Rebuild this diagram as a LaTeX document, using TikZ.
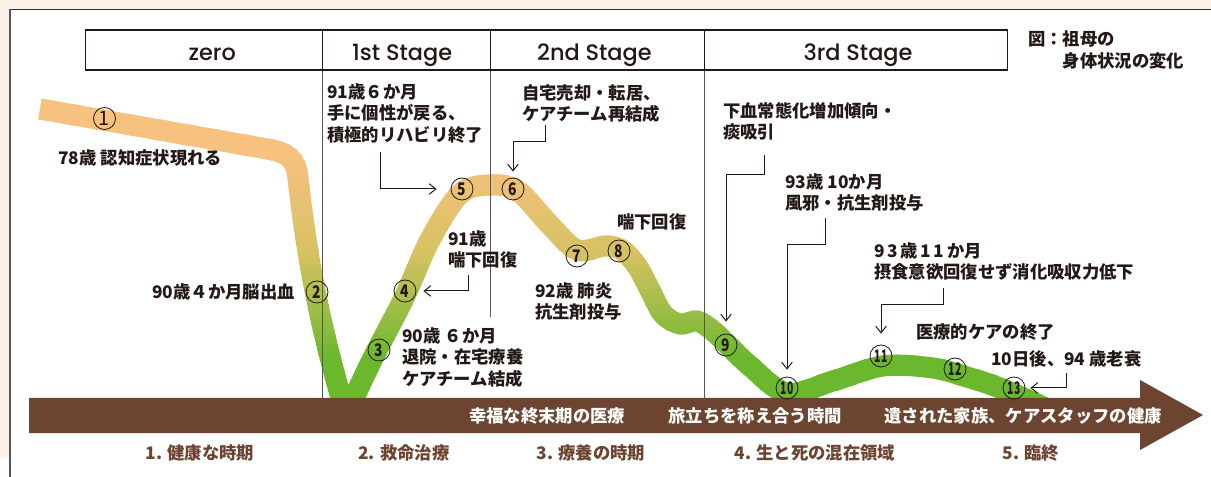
\documentclass[tikz,border=0pt]{standalone}
\usepackage{fontspec}
\newfontfamily\jp{Noto Sans CJK JP}
\newfontfamily\hd{Poppins}[UprightFont={* Medium}]
\usetikzlibrary{arrows.meta}
\definecolor{ink}{HTML}{231815}
\definecolor{beige}{HTML}{FCF1E6}
\definecolor{brownA}{HTML}{6C4430}
\definecolor{bandor}{HTML}{F7C17F}
\definecolor{bandmid}{HTML}{D6C262}
\definecolor{bandgr}{HTML}{6BB82E}
\definecolor{divc}{HTML}{5A5458}
\def\bandpath{(40,109) -- (262,148) .. controls (288,152) and (296,158) .. (298,178)
  .. controls (306,250) and (318,320) .. (346,415)
  -- plot[smooth,tension=0.55] coordinates {(346,415) (372,360) (404,298) (430,240) (460,194) (490,185) (518,191) (550,225) (577,250) (605,246) (622,250) (637,266) (650,290) (663,314) (680,324) (697,321) (712,330) (726,343) (750,366) (787,393) (833,381) (883,366) (933,368) (967,377) (1000,388) (1050,410)}}
\tikzset{
  lbl/.style={inner sep=0pt, align=left, text=ink, font=\jp\bfseries\fontsize{13}{16.1}\selectfont},
  onarrow/.style={inner sep=0pt, text=white, font=\jp\bfseries\fontsize{13}{16}\selectfont},
  period/.style={inner sep=0pt, text=brownA, font=\jp\bfseries\fontsize{13}{16}\selectfont},
  cell/.style={draw=ink, line width=1.1pt, inner sep=0pt, minimum height=30.15pt, text height=17pt, text depth=2pt, font=\hd\fontsize{16.8}{20}\selectfont, text=ink},
  num/.style={circle, draw=ink, line width=0.6pt, minimum size=16.5pt, inner sep=0pt, text=ink, font=\jp\bfseries\fontsize{13}{13}\selectfont},
  leader/.style={draw=ink, line width=0.75pt, -{Straight Barb[length=5pt,width=8pt]}},
  divider/.style={draw=divc, line width=0.7pt}
}
\begin{document}
\begin{tikzpicture}[x=0.75pt,y=-0.75pt]
\useasboundingbox (0,0) rectangle (1211,477);
\fill[white] (0,0) rectangle (1211,477);
% outer frame
\fill[beige] (0,0) rectangle (1211,9);
\fill[beige] (0,0) rectangle (9,458);
\draw[draw=ink!90, line width=1.1pt] (9,9.5) -- (1211,9.5);
\draw[draw=divc, line width=1.1pt] (10,9.5) -- (10,477);
% header cells
\node[cell, minimum width=177.75pt, anchor=north west] (h0) at (85,29.3) {\hspace*{12pt}zero};
\node[cell, minimum width=126pt, anchor=north west] (h1) at (322,29.3) {1st Stage\hspace*{7pt}};
\node[cell, minimum width=160.5pt, anchor=north west] (h2) at (490,29.3) {2nd Stage\hspace*{5pt}};
\node[cell, minimum width=226.9pt, anchor=north west] (h3) at (704,29.3) {\hspace*{3pt}3rd Stage};
% band with vertical gradient
\foreach \yy in {85,90,...,425}{
  \pgfmathsetmacro\bandt{\yy+2.5}
  \ifdim\bandt pt<255pt
    \pgfmathsetmacro\bandp{int(round(max(0,min(100,(\bandt-160)/95*100))))}
    \colorlet{bandc}{bandmid!\bandp!bandor}
  \else
    \pgfmathsetmacro\bandp{int(round(max(0,min(100,(\bandt-255)/105*100))))}
    \colorlet{bandc}{bandgr!\bandp!bandmid}
  \fi
  \begin{scope}
    \clip (0,\yy-0.6) rectangle (1211,\yy+5.6);
    \draw[bandc, line width=15.75pt, line join=round] \bandpath;
  \end{scope}
}
% time arrow
\coordinate (arrtop) at (0,398);
\fill[brownA] (29,398) -- (1140,398) -- (1140,380) -- (1203,415) -- (1140,450) -- (1140,433) -- (29,433) -- cycle;
% dividers
\draw[divider] (h1.south west) -- (h1.south west |- arrtop);
\draw[divider] (h2.south west) -- ++(0,246.5);
\draw[divider] (h3.south west) -- (h3.south west |- arrtop);
% arrow texts
\node[onarrow] (t1) at (547,416) {幸福な終末期の医療};
\node[onarrow] (t2) at (755,416) {旅立ちを称え合う時間};
\node[onarrow] (t3) at (1023,416) {遺された家族、ケアスタッフの健康};
% period labels
\node[period] (p1) at (200,453) {1. 健康な時期};
\node[period] (p2) at (404,453) {2. 救命治療};
\node[period] (p3) at (591,453) {3. 療養の時期};
\node[period] (p4) at (815,453) {4. 生と死の混在領域};
\node[period] (p5) at (1031,453) {5. 臨終};
% title
\node[lbl, anchor=north west] (title) at (1028,30.7) {図：祖母の\\\hspace*{2em}身体状況の変化};
% circled numbers
\node[num, font=\jp\fontsize{15}{15}\selectfont] (c1) at (104.5,118.5) {1};
\node[num] (c2) at (317,292) {\scalebox{0.8}[1]{2}};
\node[num] (c3) at (379,350) {\scalebox{0.8}[1]{3}};
\node[num] (c4) at (405,291) {\scalebox{0.8}[1]{4}};
\node[num] (c5) at (462,189) {\scalebox{0.8}[1]{5}};
\node[num] (c6) at (513,189) {\scalebox{0.8}[1]{6}};
\node[num] (c7) at (577,256) {\scalebox{0.8}[1]{7}};
\node[num] (c8) at (619,251) {\scalebox{0.8}[1]{8}};
\node[num] (c9) at (726,345) {\scalebox{0.8}[1]{9}};
\node[num] (c10) at (787,388) {\scalebox{0.6}[1]{10}};
\node[num] (c11) at (881,356) {\scalebox{0.6}[1]{11}};
\node[num] (c12) at (955,369) {\scalebox{0.6}[1]{12}};
\node[num] (c13) at (1014,388) {\scalebox{0.6}[1]{13}};
% labels
\node[lbl, anchor=west] (l1) at (58,158) {78歳 認知症状現れる};
\node[lbl, anchor=east] (l2) at (295,292) {90歳４か月脳出血};
\node[lbl, anchor=north west] (l5) at (327,83.2) {91歳６か月\\手に個性が戻る、\\積極的リハビリ終了};
\node[lbl, anchor=north west] (l6) at (522,84.2) {自宅売却・転居、\\ケアチーム再結成};
\node[lbl, anchor=north west] (l9) at (723,102.2) {下血常態化増加傾向・\\痰吸引};
\node[lbl, anchor=north west] (l10) at (785,173.2) {93歳 10か月\\風邪・抗生剤投与};
\node[lbl, anchor=north west] (l4) at (448,230.2) {91歳\\喘下回復};
\node[lbl, anchor=north west] (l3) at (402,327.2) {90歳 ６か月\\退院・在宅療養\\ケアチーム結成};
\node[lbl, anchor=west] (l8) at (617,222) {喘下回復};
\node[lbl, anchor=north west] (l7) at (535,282.2) {92歳 肺炎\\抗生剤投与};
\node[lbl, anchor=north west] (l11) at (874,242.2) {9\kern2pt 3\kern2pt 歳\kern2pt 1\kern2pt 1\kern2pt か月\\摂食意欲回復せず消化吸収力低下};
\node[lbl, anchor=west] (l12) at (916,332) {医療的ケアの終了};
\node[lbl, anchor=west] (l13) at (991,359) {10日後、94 歳老衰};
% leaders
\coordinate (s5) at (380,152);
\coordinate (s6) at (545,125);
\coordinate (s9) at (764,155);
\coordinate (s10) at (825,218);
\coordinate (s4) at (468,275);
\coordinate (s11) at (943,288);
\coordinate (s13) at (1066,373);
\draw[leader, shorten >=10.5pt] (s5) |- (c5);
\draw[leader, shorten >=4.5pt] (s6) -- ++(0,17) -| (c6);
\draw[leader, shorten >=9pt] (s9) -- ++(0,20) -| (c9);
\draw[leader, shorten >=5.25pt] (s10) -- ++(0,27) -| (c10);
\draw[leader, shorten >=5.25pt] (s4) |- (c4);
\draw[leader, shorten >=8.25pt] (s11) -- ++(0,17) -| (c11);
\draw[leader, shorten >=3.75pt] (s13) |- (c13);
\end{tikzpicture}
\end{document}
